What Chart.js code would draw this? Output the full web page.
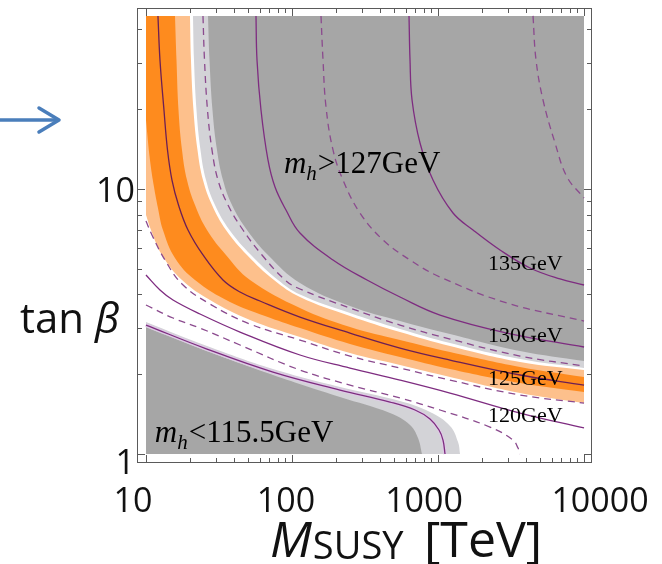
<!DOCTYPE html>
<html>
<head>
<meta charset="utf-8">
<script src="https://cdn.jsdelivr.net/npm/chart.js@4.4.1/dist/chart.umd.min.js"></script>
<style>
html, body { margin: 0; padding: 0; background: #fff; }
#wrap { width: 662px; height: 564px; position: relative; }
</style>
</head>
<body>
<div id="wrap"><canvas id="c" width="662" height="564"></canvas></div>
<script>
// ── AXES ──
const xRange = [8.68, 11340];
const yRange = [0.925, 48.2];
const tanMin = 1, tanMax = 45;
const xMajor = [10, 100, 1000, 10000];
const xMinor = [20, 30, 40, 50, 60, 70, 80, 90, 200, 300, 400, 500, 600, 700, 800, 900,
                2000, 3000, 4000, 5000, 6000, 7000, 8000, 9000];
const yMajor = [1, 10];
const yMinor = [2, 3, 4, 5, 6, 7, 8, 9, 20, 30, 40];
const xLabels = ["10", "100", "1000", "10000"];
const yLabels = ["1", "10"];

// ── ZONES (M_SUSY, tan beta) ──
const bandOuterLoM = [10, 10.82, 12.87, 17.65, 27.44, 51.58, 113.4, 249.6, 549.1, 1208, 3644, 10000];
const bandOuterLoT = [7.979, 7.004, 5.637, 4.536, 3.812, 3.203, 2.764, 2.405, 2.167, 1.952, 1.699, 1.557];

const bandInnerLoM = [10, 10.65, 11.35, 12.08, 13.07, 15.80, 21.66, 37.61, 65.33, 113.4, 249.6, 549.1, 1208, 3644, 10000];
const bandInnerLoT = [18.21, 12.87, 10.17, 8.478, 7.004, 5.492, 4.536, 3.746, 3.317, 2.988, 2.601, 2.323, 2.093, 1.853, 1.714];

const bandInnerHiM = [15.80, 16.18, 16.70, 17.65, 19.09, 21.66, 26.17, 35.31, 51.58, 113.4, 249.6, 549.1, 1208, 3644, 10000];
const bandInnerHiT = [45, 30.68, 19.87, 14.04, 10.81, 8.70, 7.004, 5.637, 4.536, 3.556, 3.014, 2.693, 2.426, 2.130, 1.952];

const bandOuterHiM = [20.01, 20.33, 21.15, 22.53, 24.57, 28.32, 35.31, 49.18, 75.3, 113.4, 249.6, 549.1, 1208, 3644, 10000];
const bandOuterHiT = [45, 30.68, 19.87, 14.04, 10.81, 8.70, 7.004, 5.637, 4.536, 3.913, 3.317, 2.886, 2.556, 2.224, 2.075];

const grayHiLightM = [20.98, 21.32, 22.18, 23.62, 25.76, 29.69, 37.32, 52.4, 80.2, 113.4, 249.6, 549.1, 1208, 3644, 10000];
const grayHiLightT = [45, 30.68, 19.87, 14.04, 10.81, 8.70, 7.004, 5.637, 4.536, 3.999, 3.405, 2.963, 2.624, 2.283, 2.111];

const grayHiDarkM = [26.59, 27.23, 28.54, 30.64, 33.68, 38.82, 49.18, 68.47, 113.4, 249.6, 549.1, 1208, 3644, 10000];
const grayHiDarkT = [45, 30.68, 19.87, 14.04, 10.81, 8.70, 7.004, 5.637, 4.419, 3.618, 3.176, 2.836, 2.447, 2.243];

const grayLoLightM = [10, 26.17, 74.13, 213.2, 549.1, 881.5, 1208, 1371, 1415];
const grayLoLightT = [3.148, 2.556, 2.093, 1.790, 1.585, 1.440, 1.276, 1.110, 1.0];

const grayLoDarkM = [10, 26.17, 74.13, 213.2, 469.1, 643.1, 729.5, 777.0];
const grayLoDarkT = [3.014, 2.447, 1.987, 1.641, 1.428, 1.287, 1.149, 1.0];

// ── CONTOURS m_h ──
const c1375M = [4474, 4691, 5239, 6331, 7648, 10000];
const c1375T = [45, 30.68, 21.67, 14.92, 11.10, 9.247];
const c135M = [633, 643.1, 664, 753, 924, 1267, 1737, 2659, 4267, 6846, 10000];
const c135T = [45, 30.68, 21.67, 14.92, 10.81, 8.118, 7.004, 5.887, 5.035, 4.576, 4.343];
const c1325M = [158, 163.1, 171, 190.9, 223.5, 292.3, 420.2, 643.1, 1032, 2970, 10000];
const c1325T = [45, 30.68, 20.39, 14.04, 10.81, 8.118, 6.421, 5.397, 4.656, 3.714, 3.176];
const c130M = [56.68, 57.59, 61.33, 68.47, 76.5, 90.96, 113.4, 190.9, 326.4, 549.1, 1032, 2970, 10000];
const c130T = [45, 30.68, 19.87, 12.87, 10.17, 8.332, 6.823, 5.397, 4.536, 3.913, 3.346, 2.861, 2.534];
const c1275M = [24.57, 25.16, 26.38, 28.32, 31.13, 36.44, 46.18, 62.3, 89.6, 113.4, 249.6, 549.1, 1208, 3644, 10000];
const c1275T = [45, 30.68, 19.87, 14.04, 10.81, 8.70, 7.004, 5.637, 4.536, 4.195, 3.556, 3.067, 2.716, 2.343, 2.148];
const c125M = [12.08, 12.47, 13.28, 14.04, 15.07, 16.70, 19.40, 24.57, 33.68, 44.05, 60.37, 113.4, 249.6, 549.1, 1208, 3644, 10000];
const c125T = [45, 30.68, 19.87, 14.04, 10.81, 8.70, 7.004, 5.637, 4.536, 4.087, 3.779, 3.288, 2.861, 2.512, 2.263, 1.987, 1.821];
const c1225M = [10, 10.99, 13.49, 17.65, 27.44, 51.58, 113.4, 249.6, 549.1, 1208, 3644, 10000];
const c1225T = [7.571, 6.706, 5.397, 4.381, 3.681, 3.094, 2.693, 2.343, 2.111, 1.902, 1.670, 1.557];
const c120M = [10, 12.47, 15.31, 23.44, 44.05, 113.4, 249.6, 549.1, 1208, 3644, 10000];
const c120T = [4.737, 4.159, 3.812, 3.375, 2.886, 2.364, 2.111, 1.902, 1.699, 1.428, 1.254];
const c1175M = [10, 15.31, 23.44, 44.05, 113.4, 249.6, 549.1, 1032, 2271, 3265, 3532, 3644];
const c1175T = [3.650, 3.260, 2.988, 2.579, 2.075, 1.821, 1.627, 1.466, 1.264, 1.129, 1.053, 1.0];
const c1155M = [10, 26.17, 74.13, 213.2, 469.1, 696, 881.5, 1016, 1082, 1117];
const c1155T = [3.067, 2.490, 2.039, 1.744, 1.571, 1.466, 1.356, 1.232, 1.129, 1.0];

// ── DATASETS ──
const pts = (ms, ts) => ms.map((m, i) => ({ x: m, y: ts[i] }));

const LIGHT_OR = "#fdc08c", DARK_OR = "#fe8b1e", LIGHT_GR = "#d3d3d7", DARK_GR = "#a6a6a6";
const PURPLE = "#7e2c80", PURPLE_D = "#8b4a8e", PURPLE_IN = "#6c1f55";
const SMOOTH = 0.4;

const areas = [
    [bandOuterLoM, bandOuterLoT, LIGHT_OR, tanMax],
    [bandInnerLoM, bandInnerLoT, DARK_OR,  tanMax],
    [bandInnerHiM, bandInnerHiT, LIGHT_OR, tanMax],
    [bandOuterHiM, bandOuterHiT, "#ffffff", tanMax],
    [grayHiLightM, grayHiLightT, LIGHT_GR, tanMax],
    [grayHiDarkM,  grayHiDarkT,  DARK_GR,  tanMax],
    [grayLoLightM, grayLoLightT, LIGHT_GR, tanMin],
    [grayLoDarkM,  grayLoDarkT,  DARK_GR,  tanMin]
];

const contours = [
    [c1155M, c1155T, false, PURPLE],
    [c1175M, c1175T, true,  PURPLE_D],
    [c120M,  c120T,  false, PURPLE],
    [c1225M, c1225T, true,  PURPLE_D],
    [c125M,  c125T,  false, PURPLE_IN],
    [c1275M, c1275T, true,  PURPLE_D],
    [c130M,  c130T,  false, PURPLE],
    [c1325M, c1325T, true,  PURPLE_D],
    [c135M,  c135T,  false, PURPLE],
    [c1375M, c1375T, true,  PURPLE_D]
];

const datasets = [];
areas.forEach(([m, t, color, edge]) => {
    datasets.push({
        data: pts(m, t),
        borderColor: "rgba(0,0,0,0)",
        borderWidth: 0,
        backgroundColor: color,
        fill: { value: edge },
        pointRadius: 0,
        tension: SMOOTH
    });
});
// halo lavande sous la limite basse
datasets.push({
    data: pts(c1155M, c1155T),
    borderColor: "#dccbe3",
    borderWidth: 4,
    fill: false,
    pointRadius: 0,
    tension: SMOOTH
});
contours.forEach(([m, t, dashed, color]) => {
    datasets.push({
        data: pts(m, t),
        borderColor: color,
        borderWidth: 1.3,
        borderDash: dashed ? [7, 5] : [],
        fill: false,
        pointRadius: 0,
        tension: SMOOTH
    });
});
datasets.forEach((d, i) => { d.order = datasets.length - i; });

// ── CADRE + GRADUATIONS ──
const frameTicks = {
    id: "frameTicks",
    afterDatasetsDraw(chart) {
        const { ctx, chartArea: a, scales: { x, y } } = chart;
        ctx.save();
        ctx.strokeStyle = "#5a5a5a";
        ctx.lineWidth = 1;
        ctx.strokeRect(a.left + 0.5, a.top + 0.5, a.width - 1, a.height - 1);
        const seg = (x1, y1, x2, y2) => { ctx.beginPath(); ctx.moveTo(x1, y1); ctx.lineTo(x2, y2); ctx.stroke(); };
        const xt = (vals, len) => vals.forEach(v => {
            const p = Math.round(x.getPixelForValue(v)) + 0.5;
            seg(p, a.bottom, p, a.bottom - len);
            seg(p, a.top, p, a.top + len);
        });
        const yt = (vals, len) => vals.forEach(v => {
            const p = Math.round(y.getPixelForValue(v)) + 0.5;
            seg(a.left, p, a.left + len, p);
            seg(a.right, p, a.right - len, p);
        });
        xt(xMajor, 8); xt(xMinor, 5);
        yt(yMajor, 8); yt(yMinor, 5);
        ctx.restore();
    }
};

// ── TEXTES ──
function mhLabel(ctx, x, y, rest, size) {
    ctx.font = `italic ${size}px "Liberation Serif"`;
    ctx.fillText("m", x, y);
    let w = ctx.measureText("m").width;
    ctx.font = `italic ${Math.round(size * 0.68)}px "Liberation Serif"`;
    ctx.fillText("h", x + w, y + size * 0.22);
    w += ctx.measureText("h").width + 1;
    ctx.font = `${size}px "Liberation Serif"`;
    ctx.fillText(rest, x + w, y);
}

const slideText = {
    id: "slideText",
    afterDraw(chart) {
        const { ctx, scales: { x, y } } = chart;
        ctx.save();

        // flèche bleue
        ctx.strokeStyle = "#4a7ebb";
        ctx.lineWidth = 3.5;
        ctx.lineCap = "round";
        ctx.lineJoin = "round";
        ctx.beginPath(); ctx.moveTo(0, 120); ctx.lineTo(57, 120); ctx.stroke();
        ctx.beginPath(); ctx.moveTo(39, 108); ctx.lineTo(59, 120); ctx.lineTo(39, 132); ctx.stroke();

        // étiquettes des axes
        ctx.fillStyle = "#111";
        ctx.textBaseline = "alphabetic";
        ctx.font = '34px "Open Sans"';
        ctx.textAlign = "center";
        const xNudge = [-13, -6, -14, 16];
        xMajor.forEach((v, i) => ctx.fillText(xLabels[i], x.getPixelForValue(v) + xNudge[i], 512));
        ctx.textAlign = "right";
        const yNudge = [20, 13];
        yMajor.forEach((v, i) => ctx.fillText(yLabels[i], 135, y.getPixelForValue(v) + yNudge[i]));

        // titres
        ctx.textAlign = "left";
        ctx.font = '42px "Open Sans"';
        ctx.fillText("tan ", 20, 333);
        let w = ctx.measureText("tan ").width;
        ctx.font = 'italic 42px "Open Sans"';
        ctx.fillText("β", 20 + w, 333);

        ctx.font = 'italic 50px "Open Sans"';
        ctx.fillText("M", 270, 557);
        w = ctx.measureText("M").width;
        ctx.font = '38px "Open Sans"';
        ctx.fillText("SUSY", 270 + w + 1, 559);
        ctx.font = '50px "Open Sans"';
        ctx.fillText("[TeV]", 424, 557);

        // étiquettes dans le graphe
        ctx.fillStyle = "#000";
        mhLabel(ctx, x.getPixelForValue(88), y.getPixelForValue(11.5), ">127GeV", 31);
        mhLabel(ctx, x.getPixelForValue(11.5), y.getPixelForValue(1.11), "<115.5GeV", 31);
        ctx.font = '22px "Liberation Serif"';
        const gx = x.getPixelForValue(2200);
        [["135GeV", 4.95], ["130GeV", 2.653], ["125GeV", 1.821], ["120GeV", 1.324]]
            .forEach(([txt, t]) => ctx.fillText(txt, gx, y.getPixelForValue(t)));

        ctx.restore();
    }
};

// ── CHART ──
new Chart(document.getElementById("c"), {
    type: "line",
    data: { datasets },
    options: {
        responsive: false,
        animation: false,
        layout: { padding: { left: 137, top: 8, right: 70, bottom: 101 } },
        scales: {
            x: { type: "logarithmic", min: xRange[0], max: xRange[1], display: false },
            y: { type: "logarithmic", min: yRange[0], max: yRange[1], display: false }
        },
        plugins: {
            legend: { display: false },
            tooltip: { enabled: false },
            filler: { drawTime: "beforeDatasetsDraw" }
        }
    },
    plugins: [frameTicks, slideText]
});
</script>
</body>
</html>
